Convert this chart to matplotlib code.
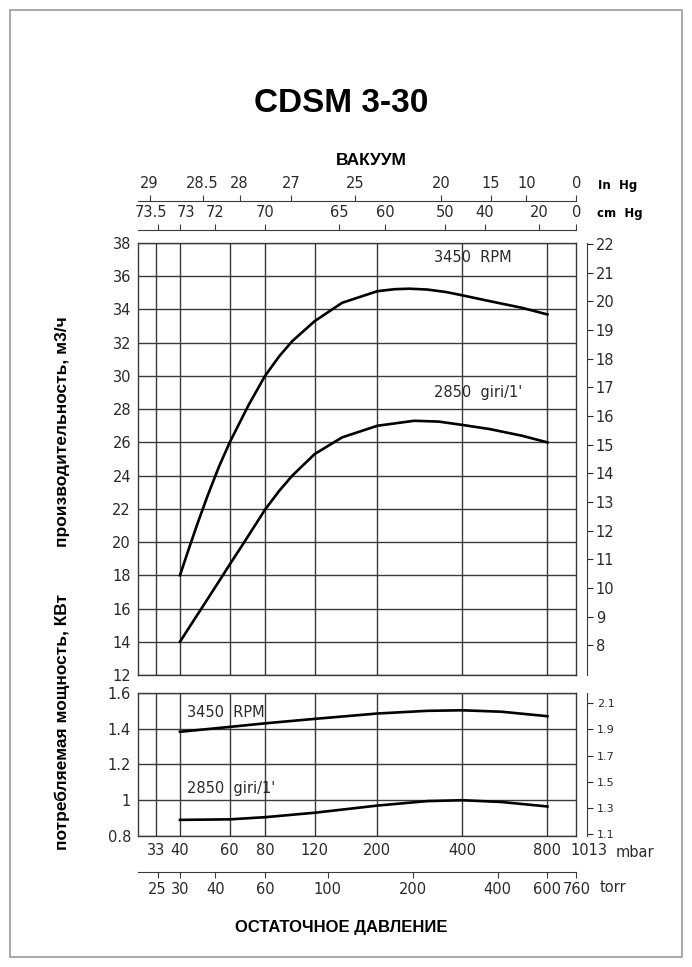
import matplotlib.pyplot as plt
from matplotlib.ticker import NullLocator
from matplotlib.patches import Rectangle

plt.rcParams['font.family'] = ['DejaVu Sans']

# кривые, давление в mbar
p_q_3450 = [40, 43, 46, 50, 55, 60, 70, 80, 90, 100, 120, 150, 200, 230, 260, 300, 350, 400, 500, 650, 800]
q_3450 = [18.0, 19.6, 21.05, 22.75, 24.55, 26.0, 28.25, 30.0, 31.2, 32.1, 33.3, 34.4, 35.1, 35.22, 35.25,
          35.2, 35.05, 34.85, 34.5, 34.1, 33.7]

p_q_2850 = [40, 45, 50, 56, 60, 67, 75, 80, 90, 100, 120, 150, 200, 270, 330, 400, 500, 650, 800]
q_2850 = [14.0, 15.35, 16.55, 17.85, 18.65, 19.9, 21.2, 21.95, 23.1, 24.0, 25.3, 26.3, 27.0, 27.3, 27.25,
          27.05, 26.8, 26.4, 26.0]

p_n = [40, 60, 80, 120, 200, 300, 400, 550, 800]
n_3450 = [1.383, 1.41, 1.43, 1.455, 1.485, 1.50, 1.503, 1.495, 1.47]
n_2850 = [0.89, 0.893, 0.905, 0.93, 0.97, 0.995, 1.0, 0.99, 0.965]

# шкалы
mbar_grid = [33, 40, 60, 80, 120, 200, 400, 800]
mbar_ticks = [33, 40, 60, 80, 120, 200, 400, 800]
inhg_ticks = [29, 28.5, 28, 27, 25, 20, 15, 10, 0]
cmhg_ticks = [73.5, 73, 72, 70, 65, 60, 50, 40, 20, 0]
torr_ticks = [25, 30, 40, 60, 100, 200, 400, 600, 760]
q_ticks = list(range(12, 39, 2))
n_ticks = [0.8, 1.0, 1.2, 1.4, 1.6]
cfm_ticks = list(range(8, 23))
hp_ticks = [1.1, 1.3, 1.5, 1.7, 1.9, 2.1]

XMIN, XMAX = 28.4, 1013.25
L, W = 0.1994, 0.6335
GRID = '#3a3a3a'
TXT = '#2a2a2a'
FS = 10.5


def lbl(v):
    return f"{v:g}"


def base_axes(rect, ylim, yticks):
    ax = fig.add_axes(rect)
    ax.set_xscale('log')
    ax.set_xlim(XMIN, XMAX)
    ax.set_ylim(*ylim)
    ax.xaxis.set_minor_locator(NullLocator())
    ax.set_xticks(mbar_grid)
    ax.set_yticks(yticks)
    ax.grid(True, color=GRID, lw=1.0)
    ax.tick_params(length=0, labelsize=FS, colors=TXT, pad=5)
    for s in ax.spines.values():
        s.set_color(GRID)
        s.set_linewidth(1.0)
    return ax


def scale_axes(y, values, conv, labels_top, shifts={}):
    ax = fig.add_axes([L, y, W, 0.0001])
    ax.set_xscale('log')
    ax.set_xlim(XMIN, XMAX)
    ax.xaxis.set_minor_locator(NullLocator())
    ax.set_yticks([])
    ax.patch.set_alpha(0)
    for name in ['left', 'right', 'top', 'bottom']:
        ax.spines[name].set_visible(False)
    side = 'top' if labels_top else 'bottom'
    ax.spines[side].set_visible(True)
    ax.spines[side].set_color(GRID)
    ax.xaxis.set_ticks_position(side)
    ax.set_xticks([conv(v) for v in values])
    ax.set_xticklabels(['' if v in shifts else lbl(v) for v in values])
    ax.tick_params(axis='x', direction='out', length=4, color=GRID,
                   labelsize=FS, labelcolor=TXT, pad=3)
    # подписи, сдвинутые чтобы не слипались
    for v, dx in shifts.items():
        ax.annotate(lbl(v), xy=(conv(v), 0.5), xycoords=('data', 'axes fraction'),
                    xytext=(dx, 7 if labels_top else -7), textcoords='offset points',
                    ha='center', va='bottom' if labels_top else 'top',
                    fontsize=FS, color=TXT)
    return ax


fig = plt.figure(figsize=(6.92, 9.67), dpi=100)

# производительность
ax1 = base_axes([L, 0.3020, W, 0.4467], (12, 38), q_ticks)
ax1.set_xticklabels([])
ax1.plot(p_q_3450, q_3450, color='black', lw=1.9, solid_joinstyle='round')
ax1.plot(p_q_2850, q_2850, color='black', lw=1.9, solid_joinstyle='round')
ax1.text(318, 37.1, '3450  RPM', fontsize=FS, color=TXT, va='center')
ax1.text(318, 29.0, "2850  giri/1'", fontsize=FS, color=TXT, va='center')
sec1 = ax1.secondary_yaxis(1.025, functions=(lambda y: y * 0.58, lambda y: y / 0.58))
sec1.set_yticks(cfm_ticks)
sec1.tick_params(length=4, labelsize=FS, colors=TXT, pad=2)
sec1.spines['right'].set_color(GRID)

# мощность
ax2 = base_axes([L, 0.1355, W, 0.1479], (0.8, 1.6), n_ticks)
ax2.set_xticks(mbar_ticks)
ax2.set_xticklabels([lbl(v) for v in mbar_ticks])
ax2.set_yticklabels([lbl(v) for v in n_ticks])
ax2.plot(p_n, n_3450, color='black', lw=1.9, solid_joinstyle='round')
ax2.plot(p_n, n_2850, color='black', lw=1.9, solid_joinstyle='round')
ax2.text(42.4, 1.49, '3450  RPM', fontsize=FS, color=TXT, va='center')
ax2.text(42.4, 1.065, "2850  giri/1'", fontsize=FS, color=TXT, va='center')
ax2.annotate('1013', xy=(XMAX, 0), xycoords=('data', 'axes fraction'), xytext=(9, -5),
             textcoords='offset points', ha='center', va='top', fontsize=FS, color=TXT)
sec2 = ax2.secondary_yaxis(1.025, functions=(lambda y: y * 1.36, lambda y: y / 1.36))
sec2.set_yticks(hp_ticks)
sec2.tick_params(length=4, labelsize=8, colors=TXT, pad=3)
sec2.spines['right'].set_color(GRID)

# вакуум сверху и torr снизу
scale_axes(0.7921, inhg_ticks, lambda v: 1013.25 - v * 33.8639, True)
scale_axes(0.7622, cmhg_ticks, lambda v: 1013.25 - v * 13.3322, True, {73.5: -5, 73: 4})
scale_axes(0.0982, torr_ticks, lambda v: v * 1.33322, False)

fig.text(0.864, 0.8077, 'In  Hg', fontsize=8.5, fontweight='bold', va='center')
fig.text(0.863, 0.7787, 'cm  Hg', fontsize=8.5, fontweight='bold', va='center')
fig.text(0.889, 0.1189, 'mbar', fontsize=FS, color=TXT, va='center')
fig.text(0.867, 0.0817, 'torr', fontsize=FS, color=TXT, va='center')

fig.text(0.493, 0.893, 'CDSM 3-30', fontsize=24, fontweight='bold',
         family='Liberation Sans', ha='center', va='center')
fig.text(0.536, 0.8345, 'ВАКУУМ', fontsize=12.5, fontweight='bold',
         family='Liberation Sans', ha='center', va='center')
fig.text(0.493, 0.041, 'ОСТАТОЧНОЕ ДАВЛЕНИЕ', fontsize=12, fontweight='bold',
         family='Liberation Sans', ha='center', va='center')

fig.text(0.09, 0.2535, 'потребляемая мощность, КВт', rotation=90, fontsize=12.5,
         fontweight='bold', family='Liberation Sans', ha='center', va='center')
fig.text(0.09, 0.5535, 'производительность, м3/ч', rotation=90, fontsize=12.5,
         fontweight='bold', family='Liberation Sans', ha='center', va='center')

# рамка
fig.patches.append(Rectangle((0.015, 0.01), 0.97, 0.98, transform=fig.transFigure,
                             fill=False, edgecolor='#999999', lw=1.2))

fig.savefig('out.png', dpi=100)
